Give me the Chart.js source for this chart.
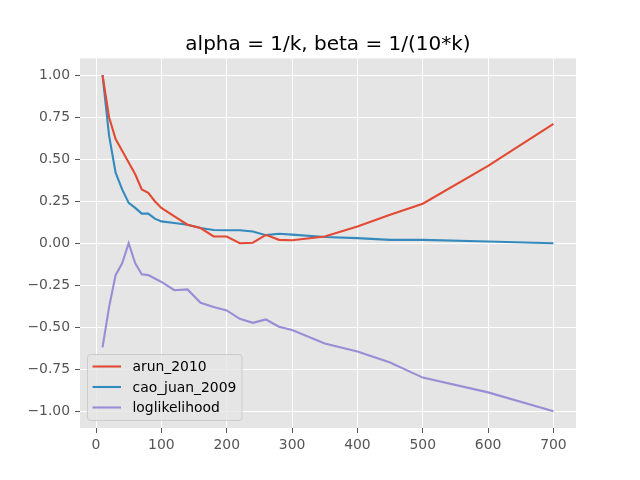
<!DOCTYPE html>
<html>
<head>
<meta charset="utf-8">
<script src="https://cdn.jsdelivr.net/npm/chart.js@4"></script>
<style>
  html, body { margin: 0; padding: 0; background: #fff; }
  canvas { display: block; }
</style>
</head>
<body>
<canvas id="chart" width="640" height="480"></canvas>
<script>
  const TITLE = "alpha = 1/k, beta = 1/(10*k)";

  const xValues = [10, 20, 30, 40, 50, 60, 70, 80, 90, 100, 120, 140, 160, 180, 200, 220, 240, 260, 280, 300, 350, 400, 450, 500, 600, 700];

  const arun2010 = [1.0, 0.75, 0.62, 0.55, 0.48, 0.41, 0.32, 0.30, 0.25, 0.21, 0.16, 0.11, 0.09, 0.04, 0.04, 0.0, 0.003, 0.05, 0.02, 0.018, 0.04, 0.10, 0.17, 0.235, 0.46, 0.71];
  const caoJuan2009 = [1.0, 0.64, 0.42, 0.32, 0.24, 0.21, 0.176, 0.176, 0.146, 0.13, 0.12, 0.11, 0.09, 0.079, 0.077, 0.077, 0.07, 0.048, 0.056, 0.051, 0.037, 0.03, 0.02, 0.02, 0.01, 0.0];
  const loglikelihood = [-0.62, -0.38, -0.19, -0.12, 0.0, -0.12, -0.185, -0.19, -0.21, -0.23, -0.28, -0.275, -0.355, -0.38, -0.40, -0.45, -0.474, -0.454, -0.497, -0.517, -0.597, -0.644, -0.71, -0.80, -0.888, -1.0];

  const xTicks = [0, 100, 200, 300, 400, 500, 600, 700];
  const yTicks = [-1.0, -0.75, -0.5, -0.25, 0, 0.25, 0.5, 0.75, 1.0];

  const FONT = "'DejaVu Sans', sans-serif";
  const pts = (ys) => xValues.map((x, i) => ({ x, y: ys[i] }));

  const ds = (label, data, color) => ({
    label, data: pts(data), borderColor: color, backgroundColor: color,
    borderWidth: 2.1, pointRadius: 0, tension: 0, fill: false
  });

  // grey panel behind the plot
  const panelBg = {
    id: "panelBg",
    beforeDraw(chart){
      const { ctx, chartArea: a } = chart;
      ctx.save();
      ctx.fillStyle = "#E5E5E5";
      ctx.fillRect(a.left, a.top, a.right - a.left, a.bottom - a.top);
      ctx.restore();
    }
  };

  const titlePlugin = {
    id: "mplTitle",
    afterDraw(chart){
      const { ctx, chartArea: a } = chart;
      ctx.save();
      ctx.font = "20px " + FONT;
      ctx.fillStyle = "#000";
      ctx.textAlign = "center";
      ctx.textBaseline = "alphabetic";
      ctx.fillText(TITLE, (a.left + a.right) / 2, 50);
      ctx.restore();
    }
  };

  // matplotlib-like legend, lower left inside the axes
  const legendPlugin = {
    id: "mplLegend",
    afterDatasetsDraw(chart){
      const { ctx, chartArea: a } = chart;
      const sets = chart.data.datasets;
      const x0 = a.left + 7.5, y0 = a.bottom - 7.5 - 66, w = 154.5, h = 66;
      ctx.save();
      ctx.beginPath();
      ctx.roundRect(x0, y0, w, h, 3);
      ctx.fillStyle = "rgba(229,229,229,0.8)";
      ctx.fill();
      ctx.strokeStyle = "#cccccc";
      ctx.lineWidth = 1;
      ctx.stroke();
      ctx.font = "13.9px " + FONT;
      ctx.textBaseline = "middle";
      ctx.fillStyle = "#000";
      sets.forEach((s, i) => {
        const y = y0 + 12 + i * 20.5;
        ctx.beginPath();
        ctx.moveTo(x0 + 5, y);
        ctx.lineTo(x0 + 33.5, y);
        ctx.strokeStyle = s.borderColor;
        ctx.lineWidth = 2.1;
        ctx.stroke();
        ctx.fillText(s.label, x0 + 45, y + 1);
      });
      ctx.restore();
    }
  };

  const fmtY = (v) => {
    const s = Math.abs(v).toFixed(2);
    return v < 0 ? "\u2212" + s : s;
  };

  new Chart(document.getElementById("chart"), {
    type: "line",
    data: {
      datasets: [
        ds("arun_2010", arun2010, "#E24A33"),
        ds("cao_juan_2009", caoJuan2009, "#348ABD"),
        ds("loglikelihood", loglikelihood, "#988ED5"),
      ]
    },
    options: {
      responsive: false,
      animation: false,
      layout: { padding: { top: 58.4, right: 64, left: 0, bottom: 0 } },
      plugins: { legend: { display: false }, tooltip: { enabled: false }, title: { display: false } },
      scales: {
        x: {
          type: "linear", min: -24.5, max: 734.5,
          afterBuildTicks: (s) => { s.ticks = xTicks.map(v => ({ value: v })); },
          afterFit: (s) => { s.height = 52; },
          grid: { color: "#ffffff", lineWidth: 1, tickColor: "#555555", tickLength: 5, drawTicks: true },
          border: { display: false },
          ticks: { color: "#555555", font: { family: FONT, size: 13.9 }, padding: 4, maxRotation: 0 }
        },
        y: {
          type: "linear", min: -1.1, max: 1.1,
          afterBuildTicks: (s) => { s.ticks = yTicks.map(v => ({ value: v })); },
          afterFit: (s) => { s.width = 80; },
          grid: { color: "#ffffff", lineWidth: 1, tickColor: "#555555", tickLength: 5, drawTicks: true },
          border: { display: false },
          ticks: { color: "#555555", font: { family: FONT, size: 13.9 }, padding: 5, callback: (v) => fmtY(v) }
        }
      }
    },
    plugins: [panelBg, titlePlugin, legendPlugin]
  });
</script>
</body>
</html>
